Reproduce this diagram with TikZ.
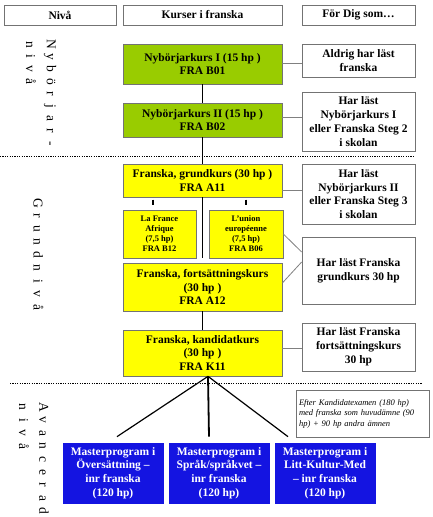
\documentclass[tikz,border=0pt]{standalone}
\usepackage{fontspec}
\setmainfont{Liberation Serif}
\usetikzlibrary{calc}
\definecolor{grfill}{RGB}{153,204,0}
\definecolor{yefill}{RGB}{255,255,0}
\definecolor{blfill}{RGB}{20,20,225}
\newcommand\ltA[1]{\makebox[12.4pt]{#1}}
\newcommand\ltB[1]{\makebox[13pt]{#1}}
\begin{document}
\begin{tikzpicture}[x=1pt,y=-1pt,
  box/.style={draw=black!55, line width=0.7pt, align=center, inner sep=1pt,
    font=\bfseries\fontsize{11.5}{13.8}\selectfont},
  hdr/.style={box, minimum height=20pt},
  grbox/.style={box, fill=grfill, minimum width=159pt},
  yebox/.style={box, fill=yefill, minimum width=159pt},
  smbox/.style={box, fill=yefill, font=\bfseries\fontsize{8.5}{10}\selectfont, minimum height=48pt},
  rtbox/.style={box, minimum width=113pt},
  blbox/.style={box, draw=blfill, fill=blfill, text=white, minimum width=100pt, minimum height=60pt},
  notebox/.style={draw=black!55, line width=0.7pt, align=left, inner sep=3pt, text width=127pt,
    minimum height=47pt, font=\itshape\fontsize{8.5}{10.5}\selectfont},
  grline/.style={draw=black!50, line width=0.8pt},
  mainline/.style={draw=black, line width=1.8pt},
  diag/.style={draw=black, line width=1.2pt},
  dotline/.style={draw=black, line width=1.8pt, dash pattern=on 1.2pt off 1.2pt},
  vlab/.style={rotate=-90, inner sep=0pt, font=\fontsize{13.5}{13.5}\selectfont}
]
\useasboundingbox (0,0) rectangle (432,517);

% headers
\node[hdr, minimum width=112pt] (h1) at (60,15) {Nivå};
\node[hdr, minimum width=159pt] (h2) at (202.5,15) {Kurser i franska};
\node[hdr, minimum width=113pt] (h3) at (358.5,15) {För Dig som…};

% level labels
\node[vlab, anchor=west] (l1) at (50,38) {\ltA{N}\ltA{y}\ltA{b}\ltA{ö}\ltA{r}\ltA{j}\ltA{a}\ltA{r}\ltA{-}};
\node[vlab, anchor=west] (l2) at (31,38) {\ltA{n}\ltA{i}\ltA{v}\ltA{å}};
\node[vlab, anchor=west] (l3) at (38.5,196.5) {\ltB{G}\ltB{r}\ltB{u}\ltB{n}\ltB{d}\ltB{n}\ltB{i}\ltB{v}\ltB{å}};
\node[vlab, anchor=west] (l4) at (44,400.5) {\ltB{A}\ltB{v}\ltB{a}\ltB{n}\ltB{c}\ltB{e}\ltB{r}\ltB{a}\ltB{d}};
\node[vlab, anchor=west] (l5) at (24,400.5) {\ltB{n}\ltB{i}\ltB{v}\ltB{å}};

% course boxes
\node[grbox, minimum height=40pt] (b01) at (202.5,64) {Nybörjarkurs I (15 hp )\\FRA B01};
\node[grbox, minimum height=34pt] (b02) at (202.5,120) {Nybörjarkurs II (15 hp )\\FRA B02};
\node[yebox, minimum height=33pt] (a11) at (202.5,180.5) {Franska, grundkurs (30 hp )\\FRA A11};
\node[smbox, minimum width=73pt] (b12) at (159.5,234) {La France\\Afrique\\(7,5 hp)\\FRA B12};
\node[smbox, minimum width=74pt] (b06) at (246,234) {L'union\\européenne\\(7,5 hp)\\FRA B06};
\node[yebox, minimum height=48pt] (a12) at (202.5,287) {Franska, fortsättningskurs\\(30 hp )\\FRA A12};
\node[yebox, minimum height=46pt] (k11) at (202.5,353) {Franska, kandidatkurs\\(30 hp )\\FRA K11};

% right boxes
\node[rtbox, minimum height=33pt] (r1) at (358.5,60.5) {Aldrig har läst\\franska};
\node[rtbox, minimum height=59pt] (r2) at (358.5,121.5) {Har läst\\Nybörjarkurs I\\eller Franska Steg 2\\i skolan};
\node[rtbox, minimum height=60pt] (r3) at (358.5,194) {Har läst\\Nybörjarkurs II\\eller Franska Steg 3\\i skolan};
\node[rtbox, minimum height=67pt] (r4) at (358.5,270.5) {Har läst Franska\\grundkurs 30 hp};
\node[rtbox, minimum height=48pt] (r5) at (358.5,347) {Har läst Franska\\fortsättningskurs\\30 hp};
\node[notebox] (nt) at (362.5,413.5) {Efter Kandidatexamen (180 hp)\\med franska som huvudämne (90\\hp) + 90 hp andra ämnen};

% master boxes
\node[blbox] (m1) at (113,473) {Masterprogram i\\Översättning –\\inr franska\\(120 hp)};
\node[blbox] (m2) at (219,473) {Masterprogram i\\Språk/språkvet –\\inr franska\\(120 hp)};
\node[blbox] (m3) at (325,473) {Masterprogram i\\Litt-Kultur-Med\\– inr franska\\(120 hp)};

% dotted level separators
\draw[dotline] (0,156.5) -- (415,156.5);
\draw[dotline] (10,383.5) -- (422,383.5);

% main line
\draw[mainline] (b01.south) -- (b02.north);
\draw[mainline] (b02.south) -- (a11.north);
\draw[mainline] (a11.south) -- ([yshift=5pt]a12.north);
\draw[mainline] (a12.south) -- (k11.north);

% ticks
\draw[line width=1.2pt] ([shift={(-6.5,-10)}]b12.north) -- ([shift={(-6.5,-5)}]b12.north);
\draw[line width=1.2pt] ([shift={(0,-10)}]b06.north) -- ([shift={(0,-5)}]b06.north);

% links to right boxes
\draw[grline] ([yshift=1pt]b01.east) -- ([yshift=1pt]b01.east -| r1.west);
\draw[grline] ([yshift=3pt]b02.east) -- ([yshift=3pt]b02.east -| r2.west);
\draw[grline] ([yshift=-10pt]a11.east) -- ([yshift=-10pt]a11.east -| r3.west);
\draw[grline] (b06.east) -- ([yshift=18.5pt]r4.west);
\draw[grline] ([yshift=4pt]a12.east) -- ([yshift=8.5pt]r4.west);
\draw[grline] ([yshift=5pt]k11.east) -- ([yshift=5pt]k11.east -| r5.west);

% to masters
\coordinate (apex) at ([xshift=5.5pt]k11.south);
\draw[diag] (apex) -- ([shift={(4,-6)}]m1.north);
\draw[mainline] (apex) -- ([shift={(-10,-6)}]m2.north);
\draw[diag] (apex) -- ([shift={(-37,-6)}]m3.north);
\end{tikzpicture}
\end{document}
